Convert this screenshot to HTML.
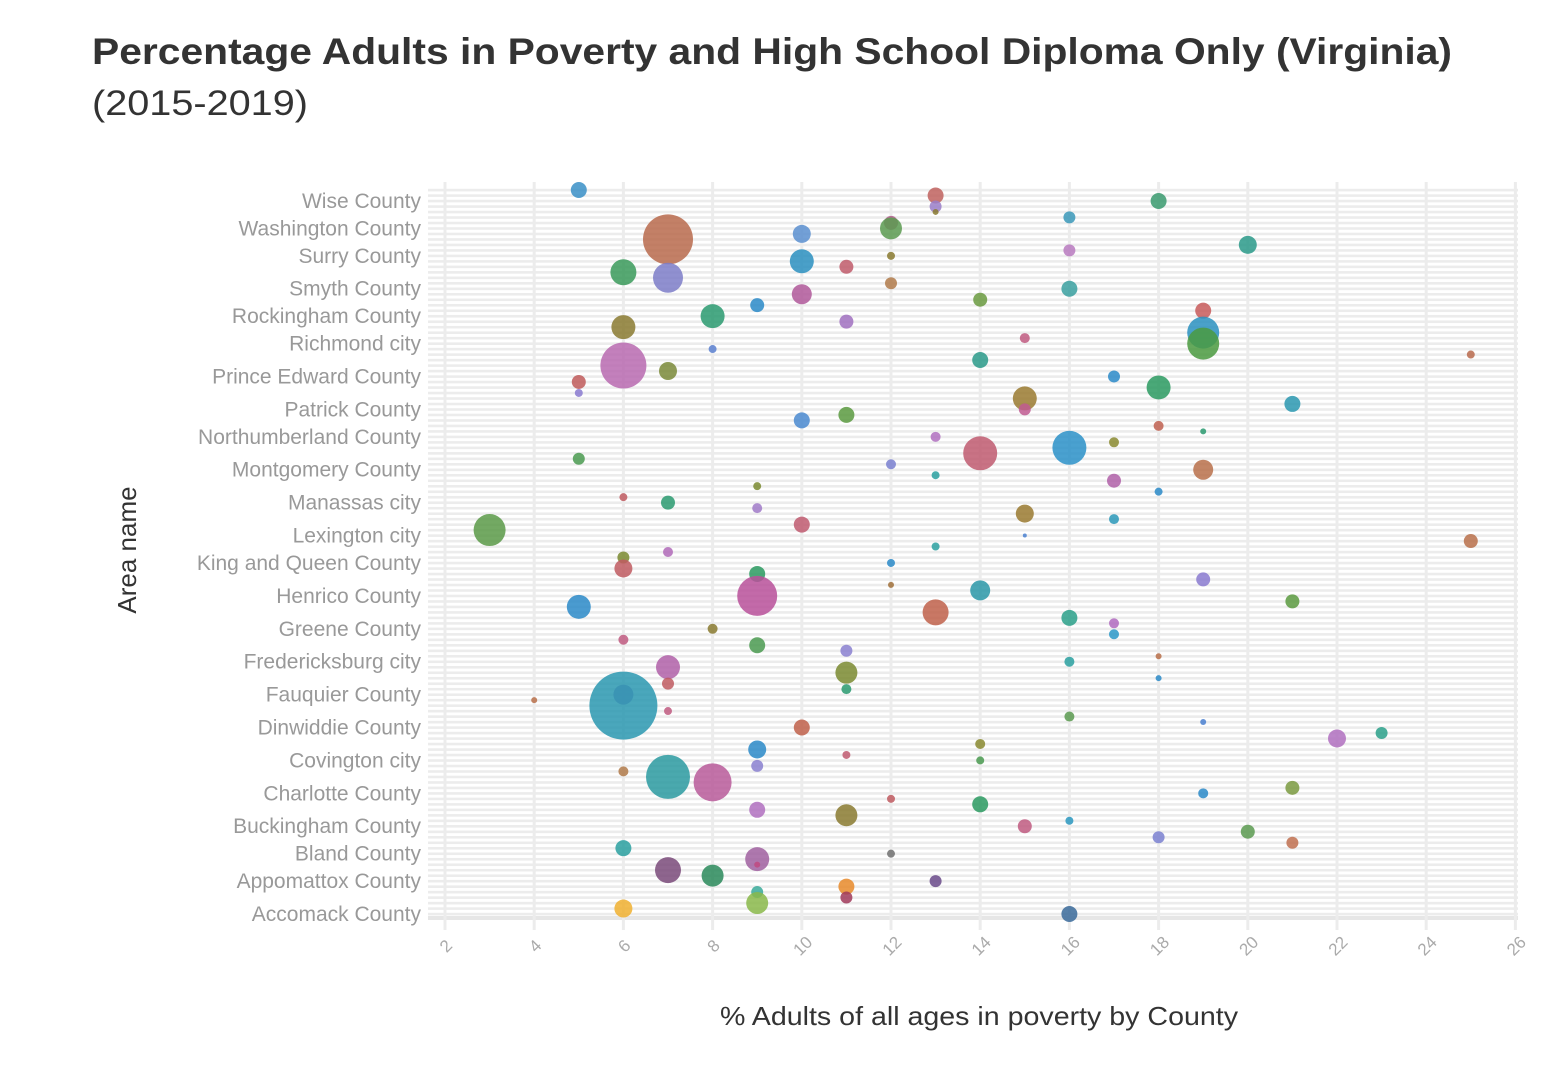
<!DOCTYPE html>
<html><head><meta charset="utf-8"><style>
body{margin:0;background:#fff;width:1556px;height:1062px;overflow:hidden;font-family:"Liberation Sans",sans-serif}
</style></head><body>
<svg id="chart" width="1556" height="1062" xmlns="http://www.w3.org/2000/svg">
<text x="92" y="64" font-size="37" font-weight="bold" fill="#333" textLength="1360" lengthAdjust="spacingAndGlyphs">Percentage Adults in Poverty and High School Diploma Only (Virginia)</text>
<text x="92" y="115" font-size="35" fill="#333" textLength="216" lengthAdjust="spacingAndGlyphs">(2015-2019)</text>
<text x="979" y="1025" font-size="26" fill="#333" text-anchor="middle" textLength="518" lengthAdjust="spacingAndGlyphs">% Adults of all ages in poverty by County</text>
<text transform="translate(136,550) rotate(-90)" font-size="26" fill="#333" text-anchor="middle">Area name</text>
<g id="grid"></g><g id="ticks"></g><g id="labels"></g><g id="marks"></g>
</svg>
<script>
// one point per row (top to bottom)
const xValues=[5,13,18,13,13,16,12,12,10,7,20,16,12,10,11,6,7,12,16,10,14,9,19,8,11,6,19,15,19,8,25,14,6,7,17,5,18,5,15,21,15,11,10,18,19,13,17,16,14,5,12,19,13,17,9,18,6,7,9,15,17,10,3,15,25,13,7,6,12,6,9,19,12,14,9,21,5,13,16,17,8,17,6,9,11,18,16,7,11,18,7,11,6,4,6,7,16,19,10,23,22,14,9,11,14,9,6,7,8,21,19,12,14,9,11,16,15,20,18,21,6,12,9,9,7,8,13,11,9,11,9,6,16];
const sizes=[8,8,8,6,3,6,7,11,9,25,9,6,4,12,7,13,15,6,8,10,7,7,8,12,7,12,16,5,16,4,4,8,23,9,6,7,12,4,12,8,6,8,8,5,3,5,5,17,17,6,5,10,4,7,4,4,4,7,5,9,5,8,16,2,7,4,5,6,4,9,8,7,3,10,20,7,12,13,8,5,5,5,5,8,6,3,5,12,11,3,6,5,10,3,34,4,5,3,8,6,9,5,9,4,4,6,5,22,19,7,5,4,8,8,11,4,7,7,6,6,8,4,12,3,13,11,6,8,6,6,11,9,8];
const colors=["#3a8fc7","#c0625e","#3a9a6e","#9a7ec8","#8a7a30","#3a98b8","#b05a8a","#5a9a50","#5b8fd0","#b86a4c","#2a9a8a","#b87ac0","#8a7a30","#2a8fc0","#c05a6a","#3a9a5a","#7c7cc8","#b07a4a","#3aa0a0","#b0589a","#6a9a40","#2a8ac8","#c85a5a","#2a9a70","#a070c0","#8a7a30","#2a90c0","#c05a80","#4a9a40","#5a80d0","#b86a4c","#2a9a8a","#b86ab0","#7a8a38","#2a8ac8","#c05a5a","#2a9a60","#8a7ad0","#9a7a30","#2a98b0","#c05a90","#5a9a40","#4a8ad0","#c06050","#2a9a70","#b070c0","#8a8a30","#2a90c8","#c05a70","#4a9a50","#7a80d0","#b8704a","#2aa0a0","#b060a8","#7a8a30","#2a8ac8","#c05a60","#2a9a70","#a07ac8","#9a7a30","#2a98b8","#c05a70","#5a9a48","#4a80d0","#b8704a","#2aa0a0","#b06ab8","#7a8a30","#2a8ac8","#c05a60","#2a9a60","#8a7ad0","#a0703a","#2a98a8","#b8509a","#5a9a40","#2a8ac8","#c0604a","#2aa08a","#b06ac0","#8a7a30","#2a98c8","#c05a80","#4a9a50","#8a80d0","#b8704a","#2aa0a0","#b060a8","#7a8a30","#2a8ac8","#c05a60","#2a9a70","#8a70c0","#b8704a","#2a98b0","#c05a80","#5a9a50","#4a80d0","#c0604a","#2aa08a","#b070c0","#8a8a30","#2a8ac8","#c05a70","#4a9a50","#8a80d0","#b07a4a","#2a9aa0","#b85a9a","#7a9a40","#2a8ac8","#c05a60","#2a9a60","#b070c0","#8a7a30","#2a98c0","#c05a80","#5a9a50","#7a80d0","#c07050","#2aa0a0","#707070","#a060a0","#c04a80","#7a4a7a","#2a8a5a","#6a4a8a","#e88a2a","#3aaa9a","#a03a5a","#8ab84a","#f0b030","#3a6a9a"];
const labelRows=[2,7,12,18,23,28,34,40,45,51,57,63,68,74,80,86,92,98,104,110,116,121,126,132];
const labelNames=["Wise County","Washington County","Surry County","Smyth County","Rockingham County","Richmond city","Prince Edward County","Patrick County","Northumberland County","Montgomery County","Manassas city","Lexington city","King and Queen County","Henrico County","Greene County","Fredericksburg city","Fauquier County","Dinwiddie County","Covington city","Charlotte County","Buckingham County","Bland County","Appomattox County","Accomack County"];
const xTicks=[2,4,6,8,10,12,14,16,18,20,22,24,26];

const NS="http://www.w3.org/2000/svg";
const nRows=xValues.length;
const X0=445,XU=44.6,Y0=190,YU=(914-190)/(nRows-1);
const xs=v=>X0+(v-2)*XU, ys=r=>Y0+r*YU;
function mk(t,a,p){const e=document.createElementNS(NS,t);for(const k in a)e.setAttribute(k,a[k]);p.appendChild(e);return e;}
const grid=document.getElementById('grid'),ticks=document.getElementById('ticks'),labels=document.getElementById('labels'),marks=document.getElementById('marks');
for(let i=0;i<nRows;i++){
  const l=mk('rect',{x:428,y:ys(i)-1.2,width:1090,height:2.6,fill:'#ececec'},grid);
  
  
}
const bb=mk('rect',{x:428,y:916,width:1090,height:4,fill:'#e6e6e6'},grid);


xTicks.forEach(t=>{
  const g=mk('rect',{x:xs(t)-1.5,y:182,width:3,height:748,fill:'#ececec'},grid);
  
  
  const tx=mk('text',{transform:`translate(${xs(t)+5},${950}) rotate(-45)`,'font-size':17,fill:'#aaa','text-anchor':'middle'},ticks);
  tx.textContent=t;
  
  
});
labelRows.forEach((r,i)=>{
  const tx=mk('text',{x:421,y:ys(r)+7,'font-size':21,fill:'#999','text-anchor':'end'},labels);
  tx.textContent=labelNames[i];
  
  
});
for(let i=0;i<nRows;i++){
  const c=mk('circle',{cx:xs(xValues[i]),cy:ys(i),r:sizes[i],fill:colors[i],'fill-opacity':0.85},marks);
  
  
}
</script>
</body></html>
